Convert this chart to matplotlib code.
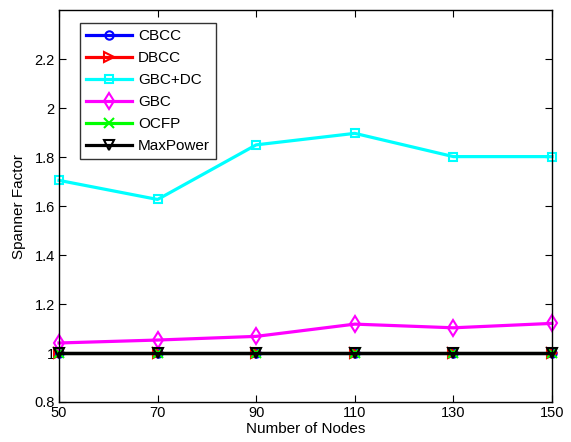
import numpy as np
import matplotlib
matplotlib.use('Agg')
import matplotlib.pyplot as plt

plt.rcParams['font.family'] = ['Liberation Sans', 'DejaVu Sans']

nodes = [50, 70, 90, 110, 130, 150]
cbcc = [1.0, 1.0, 1.0, 1.0, 1.0, 1.0]
dbcc = [1.0, 1.0, 1.0, 1.0, 1.0, 1.0]
gbc_dc = [1.705, 1.627, 1.850, 1.897, 1.802, 1.802]
gbc = [1.041, 1.053, 1.068, 1.118, 1.103, 1.121]
ocfp = [1.0, 1.0, 1.0, 1.0, 1.0, 1.0]
maxpower = [1.0, 1.0, 1.0, 1.0, 1.0, 1.0]

fig = plt.figure(figsize=(5.71, 4.42), dpi=100)
ax = fig.add_axes([0.1033, 0.0905, 0.8634, 0.8865])

lw = 2.3
kw = dict(lw=lw, mfc='none', mew=1.5, clip_on=False)
ax.plot(nodes, cbcc, '-o', color='blue', ms=6, label='CBCC', **kw)
ax.plot(nodes, dbcc, '->', color='red', ms=7, label='DBCC', **kw)
ax.plot(nodes, gbc_dc, '-s', color='cyan', ms=6, label='GBC+DC', **kw)
ax.plot(nodes, gbc, '-d', color='magenta', ms=8, label='GBC', **kw)
ax.plot(nodes, ocfp, '-x', color='lime', ms=7, label='OCFP', **kw)
ax.plot(nodes, maxpower, '-v', color='black', ms=7, label='MaxPower', **kw)

ax.set_xlim(50, 150)
ax.set_ylim(0.8, 2.4)
ax.set_xticks(nodes)
ax.set_yticks([0.8, 1, 1.2, 1.4, 1.6, 1.8, 2, 2.2])
ax.set_yticklabels(['0.8', '1', '1.2', '1.4', '1.6', '1.8', '2', '2.2'])
ax.tick_params(direction='in', top=True, right=True, labelsize=10.5, length=5, pad=3)
ax.set_xlabel('Number of Nodes', fontsize=11, labelpad=1)
ax.set_ylabel('Spanner Factor', fontsize=11, labelpad=6)
for s in ax.spines.values():
    s.set_linewidth(1.0)

leg = ax.legend(loc='upper left', bbox_to_anchor=(0.043, 0.967), fancybox=False,
                edgecolor='black', fontsize=11, handlelength=3.0, borderpad=0.4,
                labelspacing=0.52, handletextpad=0.4, borderaxespad=0)
leg.get_frame().set_linewidth(1.0)

fig.savefig('out.png', dpi=100)
